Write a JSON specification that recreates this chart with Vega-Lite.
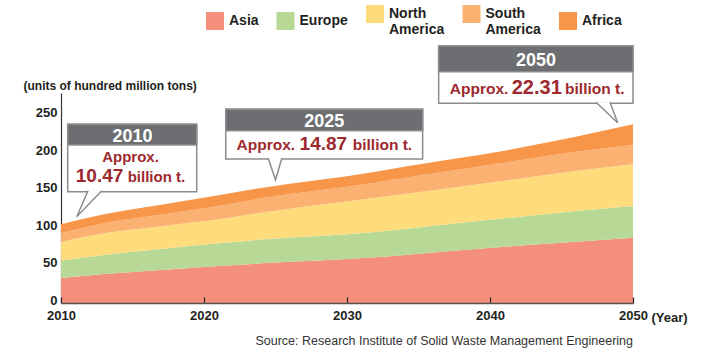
{
  "$schema": "https://vega.github.io/schema/vega-lite/v6.json",
  "width": 572,
  "height": 210,
  "autosize": "none",
  "padding": {"left": 61, "top": 93, "right": 71, "bottom": 48},
  "background": "white",
  "config": {"view": {"stroke": null}, "font": "Liberation Sans"},
  "title": {"text": "Source: Research Institute of Solid Waste Management Engineering", "orient": "bottom", "anchor": "end", "frame": "group", "fontSize": 12.5, "fontWeight": "normal", "color": "#333333", "font": "Liberation Sans", "offset": 11},
  "data": {"values": [
    {"year": 2010, "region": "Asia", "value": 33.3}, {"year": 2010, "region": "Europe", "value": 23.1}, {"year": 2010, "region": "North America", "value": 24.9}, {"year": 2010, "region": "South America", "value": 11.6}, {"year": 2010, "region": "Africa", "value": 12.0},
    {"year": 2013, "region": "Asia", "value": 38.7}, {"year": 2013, "region": "Europe", "value": 25.3}, {"year": 2013, "region": "North America", "value": 28.9}, {"year": 2013, "region": "South America", "value": 13.4}, {"year": 2013, "region": "Africa", "value": 12.0},
    {"year": 2017, "region": "Asia", "value": 44.0}, {"year": 2017, "region": "Europe", "value": 28.0}, {"year": 2017, "region": "North America", "value": 30.3}, {"year": 2017, "region": "South America", "value": 15.4}, {"year": 2017, "region": "Africa", "value": 13.4},
    {"year": 2021, "region": "Asia", "value": 49.3}, {"year": 2021, "region": "Europe", "value": 30.3}, {"year": 2021, "region": "North America", "value": 32.0}, {"year": 2021, "region": "South America", "value": 17.7}, {"year": 2021, "region": "Africa", "value": 14.5},
    {"year": 2024, "region": "Asia", "value": 52.9}, {"year": 2024, "region": "Europe", "value": 31.8}, {"year": 2024, "region": "North America", "value": 35.7}, {"year": 2024, "region": "South America", "value": 19.2}, {"year": 2024, "region": "Africa", "value": 13.8},
    {"year": 2032, "region": "Asia", "value": 60.9}, {"year": 2032, "region": "Europe", "value": 33.8}, {"year": 2032, "region": "North America", "value": 45.8}, {"year": 2032, "region": "South America", "value": 20.0}, {"year": 2032, "region": "Africa", "value": 14.6},
    {"year": 2034, "region": "Asia", "value": 64.0}, {"year": 2034, "region": "Europe", "value": 34.7}, {"year": 2034, "region": "North America", "value": 46.8}, {"year": 2034, "region": "South America", "value": 21.3}, {"year": 2034, "region": "Africa", "value": 15.0},
    {"year": 2041, "region": "Asia", "value": 75.1}, {"year": 2041, "region": "Europe", "value": 37.8}, {"year": 2041, "region": "North America", "value": 50.2}, {"year": 2041, "region": "South America", "value": 24.0}, {"year": 2041, "region": "Africa", "value": 16.0},
    {"year": 2046, "region": "Asia", "value": 81.7}, {"year": 2046, "region": "Europe", "value": 41.0}, {"year": 2046, "region": "North America", "value": 53.3}, {"year": 2046, "region": "South America", "value": 25.7}, {"year": 2046, "region": "Africa", "value": 20.0},
    {"year": 2050, "region": "Asia", "value": 87.1}, {"year": 2050, "region": "Europe", "value": 42.2}, {"year": 2050, "region": "North America", "value": 55.6}, {"year": 2050, "region": "South America", "value": 25.8}, {"year": 2050, "region": "Africa", "value": 27.6}
  ]},
  "layer": [
    {
      "transform": [{"calculate": "indexof(['Asia', 'Europe', 'North America', 'South America', 'Africa'], datum.region)", "as": "rank"}],
      "mark": {"type": "area", "interpolate": "monotone", "opacity": 1},
      "encoding": {
        "x": {"field": "year", "type": "quantitative", "scale": {"domain": [2010, 2050], "nice": false, "zero": false},
          "axis": {"values": [2010, 2020, 2030, 2040, 2050], "format": "d", "labelFontSize": 13, "labelFontWeight": "bold", "labelColor": "#231f20", "tickSize": -6, "tickColor": "#222222", "tickWidth": 1.2, "domainColor": "#5b5350", "domainWidth": 1.5, "labelPadding": 12.5, "grid": false, "labelFlush": false, "title": "(Year)", "titleFontSize": 13, "titleFontWeight": "bold", "titleColor": "#231f20", "titleX": 590, "titleY": 14, "titleAlign": "left", "titleBaseline": "middle", "titleAngle": 0, "zindex": 1}},
        "y": {"field": "value", "type": "quantitative", "stack": "zero", "scale": {"domain": [0, 280], "nice": false},
          "axis": {"values": [0, 50, 100, 150, 200, 250], "labelFontSize": 13, "labelFontWeight": "bold", "labelColor": "#231f20", "ticks": false, "labelPadding": 4, "labelOffset": -3, "domainColor": "#333333", "domainWidth": 1.2, "grid": false, "title": "(units of hundred million tons)", "titleAngle": 0, "titleAlign": "left", "titleBaseline": "middle", "titleX": -38, "titleY": -8, "titleFontSize": 12, "titleFontWeight": "bold", "titleColor": "#231f20"}},
        "order": {"field": "rank", "type": "quantitative", "sort": "ascending"},
        "color": {"field": "region", "type": "nominal", "sort": ["Asia", "Europe", "North America", "South America", "Africa"],
          "scale": {"domain": ["Asia", "Europe", "North America", "South America", "Africa"], "range": ["#f48f7b", "#b7d995", "#fedb7b", "#fbb172", "#f79648"]},
          "legend": {"orient": "none", "legendX": 145, "legendY": -88, "direction": "horizontal", "title": null, "symbolType": "square", "symbolSize": 324, "symbolStrokeWidth": 0, "symbolOpacity": 1, "labelFontSize": 14, "labelFontWeight": "bold", "labelColor": "#231f20", "labelOffset": 5, "columnPadding": 17.5, "labelExpr": "split(datum.label, ' ')", "labelLimit": 200}}
      }
    },
    {"data": {"values": [{}]}, "mark": {"type": "rect", "fill": "white", "stroke": "#8c8c8c", "strokeWidth": 1.5},
      "encoding": {"x": {"datum": 2010.47, "type": "quantitative"}, "x2": {"datum": 2019.49}, "y": {"datum": 238.3, "type": "quantitative"}, "y2": {"datum": 148.4}}},
    {"data": {"values": [{}]}, "mark": {"type": "rect", "fill": "#6d6e71", "stroke": "#8c8c8c", "strokeWidth": 1.5},
      "encoding": {"x": {"datum": 2010.47, "type": "quantitative"}, "x2": {"datum": 2019.49}, "y": {"datum": 238.3, "type": "quantitative"}, "y2": {"datum": 210.7}}},
    {"data": {"values": [{}]}, "mark": {"type": "point", "shape": "M1.13,-2.6L0,0L2.5,-2.6", "size": 400, "filled": true, "fill": "white", "stroke": "#8c8c8c", "strokeWidth": 1.5, "opacity": 1},
      "encoding": {"x": {"datum": 2011.1, "type": "quantitative"}, "y": {"datum": 115.1, "type": "quantitative"}}},
    {"data": {"values": [{}]}, "mark": {"type": "text", "text": "2010", "fill": "white", "fontSize": 18, "fontWeight": "bold", "align": "center", "baseline": "alphabetic"},
      "encoding": {"x": {"datum": 2015, "type": "quantitative"}, "y": {"datum": 215.1, "type": "quantitative"}}},
    {"data": {"values": [{}]}, "mark": {"type": "text", "text": "Approx.", "fill": "#9e2a2f", "fontSize": 15, "fontWeight": "bold", "align": "center", "baseline": "alphabetic", "dx": -2},
      "encoding": {"x": {"datum": 2015, "type": "quantitative"}, "y": {"datum": 187.6, "type": "quantitative"}}},
    {"data": {"values": [{}]}, "mark": {"type": "text", "text": "10.47", "fill": "#9e2a2f", "fontSize": 19, "fontWeight": "bold", "align": "right", "baseline": "alphabetic", "dx": -9.2},
      "encoding": {"x": {"datum": 2015, "type": "quantitative"}, "y": {"datum": 161.0, "type": "quantitative"}}},
    {"data": {"values": [{}]}, "mark": {"type": "text", "text": "billion t.", "fill": "#9e2a2f", "fontSize": 15, "fontWeight": "bold", "align": "left", "baseline": "alphabetic", "dx": -4.8},
      "encoding": {"x": {"datum": 2015, "type": "quantitative"}, "y": {"datum": 161.0, "type": "quantitative"}}},

    {"data": {"values": [{}]}, "mark": {"type": "rect", "fill": "white", "stroke": "#8c8c8c", "strokeWidth": 1.5},
      "encoding": {"x": {"datum": 2021.52, "type": "quantitative"}, "x2": {"datum": 2035.29}, "y": {"datum": 258.3, "type": "quantitative"}, "y2": {"datum": 192}}},
    {"data": {"values": [{}]}, "mark": {"type": "rect", "fill": "#6d6e71", "stroke": "#8c8c8c", "strokeWidth": 1.5},
      "encoding": {"x": {"datum": 2021.52, "type": "quantitative"}, "x2": {"datum": 2035.29}, "y": {"datum": 258.3, "type": "quantitative"}, "y2": {"datum": 229.7}}},
    {"data": {"values": [{}]}, "mark": {"type": "point", "shape": "M-0.73,-2.2L0,0L0.64,-2.2", "size": 400, "filled": true, "fill": "white", "stroke": "#8c8c8c", "strokeWidth": 1.5, "opacity": 1},
      "encoding": {"x": {"datum": 2025, "type": "quantitative"}, "y": {"datum": 164, "type": "quantitative"}}},
    {"data": {"values": [{}]}, "mark": {"type": "text", "text": "2025", "fill": "white", "fontSize": 18, "fontWeight": "bold", "align": "center", "baseline": "alphabetic"},
      "encoding": {"x": {"datum": 2028.41, "type": "quantitative"}, "y": {"datum": 235.1, "type": "quantitative"}}},
    {"data": {"values": [{}]}, "mark": {"type": "text", "text": "Approx.", "fill": "#9e2a2f", "fontSize": 15.5, "fontWeight": "bold", "align": "right", "baseline": "alphabetic", "dx": -29.2},
      "encoding": {"x": {"datum": 2028.41, "type": "quantitative"}, "y": {"datum": 203.6, "type": "quantitative"}}},
    {"data": {"values": [{}]}, "mark": {"type": "text", "text": "14.87", "fill": "#9e2a2f", "fontSize": 19, "fontWeight": "bold", "align": "center", "baseline": "alphabetic", "dx": -0.9},
      "encoding": {"x": {"datum": 2028.41, "type": "quantitative"}, "y": {"datum": 203.6, "type": "quantitative"}}},
    {"data": {"values": [{}]}, "mark": {"type": "text", "text": "billion t.", "fill": "#9e2a2f", "fontSize": 15.5, "fontWeight": "bold", "align": "left", "baseline": "alphabetic", "dx": 28.5},
      "encoding": {"x": {"datum": 2028.41, "type": "quantitative"}, "y": {"datum": 203.6, "type": "quantitative"}}},

    {"data": {"values": [{}]}, "mark": {"type": "rect", "fill": "white", "stroke": "#8c8c8c", "strokeWidth": 1.5},
      "encoding": {"x": {"datum": 2036.41, "type": "quantitative"}, "x2": {"datum": 2050}, "y": {"datum": 342.7, "type": "quantitative"}, "y2": {"datum": 266.3}}},
    {"data": {"values": [{}]}, "mark": {"type": "rect", "fill": "#6d6e71", "stroke": "#8c8c8c", "strokeWidth": 1.5},
      "encoding": {"x": {"datum": 2036.41, "type": "quantitative"}, "x2": {"datum": 2050}, "y": {"datum": 342.7, "type": "quantitative"}, "y2": {"datum": 308.4}}},
    {"data": {"values": [{}]}, "mark": {"type": "point", "shape": "M-2.17,-2.04L0,0L-0.77,-2.04", "size": 400, "filled": true, "fill": "white", "stroke": "#8c8c8c", "strokeWidth": 1.5, "opacity": 1},
      "encoding": {"x": {"datum": 2048.93, "type": "quantitative"}, "y": {"datum": 240.4, "type": "quantitative"}}},
    {"data": {"values": [{}]}, "mark": {"type": "text", "text": "2050", "fill": "white", "fontSize": 18, "fontWeight": "bold", "align": "center", "baseline": "alphabetic"},
      "encoding": {"x": {"datum": 2043.22, "type": "quantitative"}, "y": {"datum": 316.4, "type": "quantitative"}}},
    {"data": {"values": [{}]}, "mark": {"type": "text", "text": "Approx.", "fill": "#9e2a2f", "fontSize": 15.5, "fontWeight": "bold", "align": "right", "baseline": "alphabetic", "dx": -27.7},
      "encoding": {"x": {"datum": 2043.22, "type": "quantitative"}, "y": {"datum": 278.7, "type": "quantitative"}}},
    {"data": {"values": [{}]}, "mark": {"type": "text", "text": "22.31", "fill": "#9e2a2f", "fontSize": 20, "fontWeight": "bold", "align": "center", "baseline": "alphabetic", "dx": 0.7},
      "encoding": {"x": {"datum": 2043.22, "type": "quantitative"}, "y": {"datum": 278.7, "type": "quantitative"}}},
    {"data": {"values": [{}]}, "mark": {"type": "text", "text": "billion t.", "fill": "#9e2a2f", "fontSize": 15.5, "fontWeight": "bold", "align": "left", "baseline": "alphabetic", "dx": 29},
      "encoding": {"x": {"datum": 2043.22, "type": "quantitative"}, "y": {"datum": 278.7, "type": "quantitative"}}}
  ]
}
